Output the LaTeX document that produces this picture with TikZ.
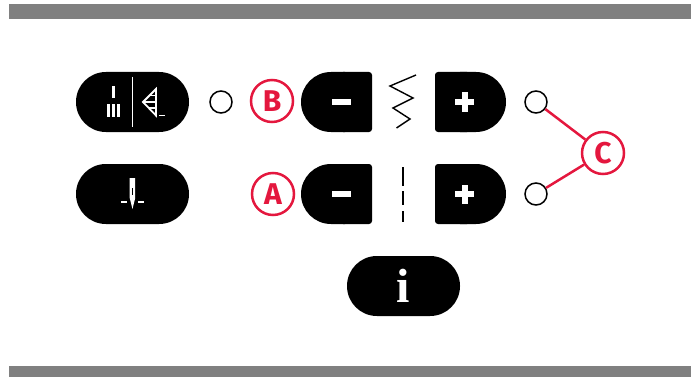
\documentclass[tikz,border=0pt]{standalone}
\usepackage{fontspec}
\setmainfont{Fira Sans}
\newfontfamily\infofont{Liberation Serif}
\usetikzlibrary{positioning,calc}
\definecolor{bandgray}{HTML}{808080}
\definecolor{callred}{HTML}{E4173E}
\begin{document}
\begin{tikzpicture}[
  x=1pt,y=-1pt,
  pill/.style={fill=black,rounded corners=29.9pt,minimum width=113pt,minimum height=60pt,inner sep=0pt},
  led/.style={circle,draw=black,fill=white,line width=1.5pt,minimum size=22pt,inner sep=0pt},
  callout/.style={circle,draw=callred,fill=white,line width=2.5pt,minimum size=42pt,inner sep=0pt,text=callred,font=\fontsize{30}{30}\selectfont\bfseries},
  callline/.style={draw=callred,line width=2.5pt},
  glyph/.style={draw=white,line width=1.8pt},
  stitch/.style={draw=black,line width=1.4pt},
  sign/.style={fill=white,draw=none}
]
\useasboundingbox (0,0) rectangle (700,377);
\fill[bandgray] (9,4) rectangle (691,19);
\fill[bandgray] (9,365.5) rectangle (691,377);
% left column
\node[pill] (patternpill) at (132.5,102) {};
\node[pill] (needlepill) at (132.5,194) {};
\node[pill,text=white,font=\fontsize{48}{48}\infofont\bfseries] (infopill) at (403.5,286) {i};
\node[led] (ledleft) at (221,102) {};
\draw[draw=white,line width=1.5pt] (132.7,77) -- (132.7,127);
\fill[white] (111.7,86) rectangle (115,98.5);
\foreach \xx in {106.7,111.7,116.7} \fill[white] (\xx,103.5) rectangle (\xx+3.3,117);
\draw[glyph,line join=miter] (156,89) -- (156,115.5) -- (143,102) -- cycle;
\draw[glyph] (149,95.5) -- (156,95.5) (149,108) -- (156,108) (144,102) -- (156,102);
\draw[glyph] (159.3,115.5) -- (165,115.5);
\fill[white] (129.7,178) -- (135.2,178) -- (135.2,198) -- (132.5,209) -- (129.7,198) -- cycle;
\fill[black] (131.8,188) rectangle (133.2,195);
\draw[glyph] (121,201.7) -- (127,201.7) (138,201.7) -- (144,201.7);
% speed buttons
\foreach \yy/\nam in {102/upper,194/lower}{
  \fill[black,rounded corners=3pt] (340,\yy-30) -- (372,\yy-30) -- (372,\yy+30) -- (340,\yy+30) -- cycle;
  \fill[black] (331,\yy-30) arc[start angle=-90,end angle=-270,radius=30] -- (345,\yy+30) -- (345,\yy-30) -- cycle;
  \fill[black,rounded corners=3pt] (470,\yy-30) -- (435,\yy-30) -- (435,\yy+30) -- (470,\yy+30) -- cycle;
  \fill[black] (476,\yy-30) arc[start angle=-90,end angle=90,radius=30] -- (460,\yy+30) -- (460,\yy-30) -- cycle;
  \fill[sign] (332,\yy-3) rectangle (351,\yy+3);
  \fill[sign] (455,\yy-3) rectangle (474,\yy+3);
  \fill[sign] (461.5,\yy-9.5) rectangle (467.5,\yy+9.5);
}
% stitches
\draw[stitch] (416,75) -- (390,86) -- (413,98) -- (393,108) -- (410,119) -- (396.5,128);
\draw[stitch] (403,167) -- (403,186) (403,191) -- (403,205) (403,211) -- (403,222);
% indicators and callouts
\node[led] (ledupper) at (536,102) {};
\node[led] (ledlower) at (536,194) {};
\node[callout] (calloutb) at (272,101) {B};
\node[callout] (callouta) at (273,194) {A};
\node[callout] (calloutc) at (603,153) {C};
\draw[callline] (ledupper) -- (calloutc);
\draw[callline] (ledlower) -- (calloutc);
\end{tikzpicture}
\end{document}
